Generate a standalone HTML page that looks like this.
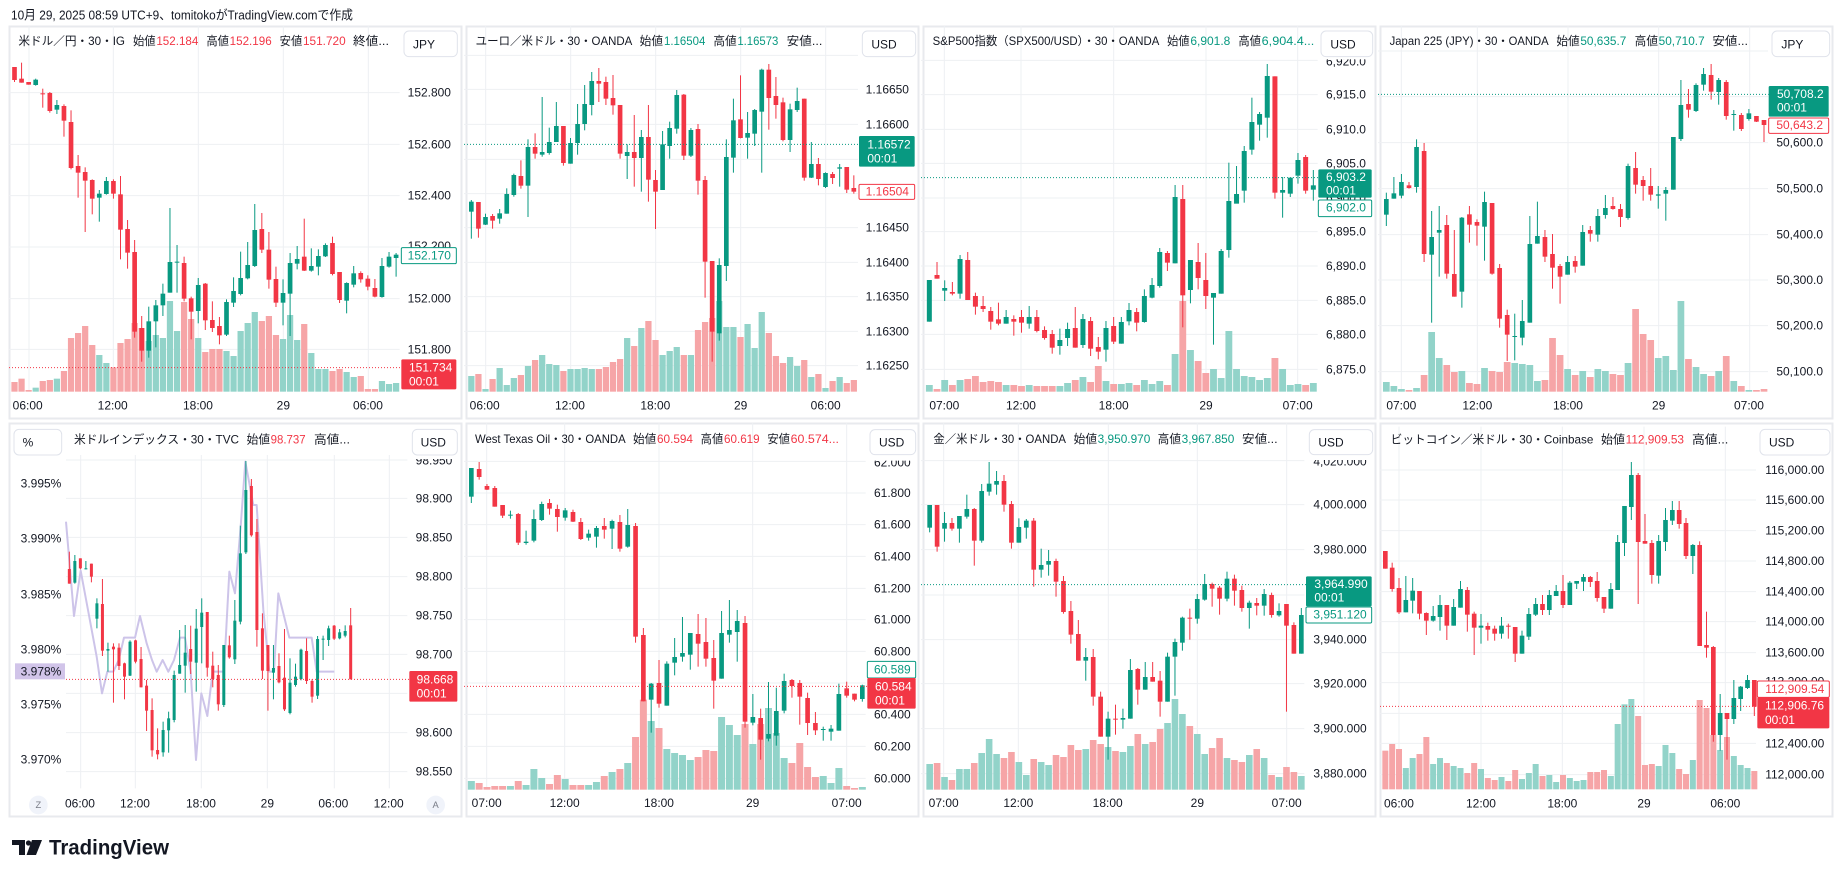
<!DOCTYPE html>
<html><head><meta charset="utf-8">
<style>
html,body{margin:0;padding:0;background:#fff;width:1844px;height:878px;overflow:hidden}
svg{display:block}
text{font-family:"Liberation Sans","Noto Sans CJK JP",sans-serif;fill:#131722}
.ax{font-size:36px;text-anchor:end;dominant-baseline:central}
.tl{font-size:36px;text-anchor:middle;dominant-baseline:central}
.lb{font-size:36px;dominant-baseline:central}
.ti{font-size:35px;dominant-baseline:central}
.w{fill:#fff}
.g{fill:#089981}
.r{fill:#f23645}
.grid{stroke:#eef0f3;stroke-width:3;fill:none}
.box{fill:#fff;stroke:#e0e3eb;stroke-width:3}
.frame{fill:#fff;stroke:#e8eaee;stroke-width:2}
</style></head><body>
<svg width="1844" height="878" viewBox="0 0 1844 878" xmlns="http://www.w3.org/2000/svg">
<rect width="1844" height="878" fill="#fff"/>
<text x="11" y="15" style="font-size:13px;dominant-baseline:central" textLength="342" lengthAdjust="spacingAndGlyphs">10月 29, 2025 08:59 UTC+9、tomitokoがTradingView.comで作成</text>

<rect class="frame" x="9.5" y="26.5" width="452" height="392"/>
<rect class="frame" x="466.5" y="26.5" width="452" height="392"/>
<rect class="frame" x="923.5" y="26.5" width="452" height="392"/>
<rect class="frame" x="1380.5" y="26.5" width="452" height="392"/>
<rect class="frame" x="9.5" y="423.5" width="452" height="393"/>
<rect class="frame" x="466.5" y="423.5" width="452" height="393"/>
<rect class="frame" x="923.5" y="423.5" width="452" height="393"/>
<rect class="frame" x="1380.5" y="423.5" width="452" height="393"/>

<!-- P1 USDJPY -->
<g transform="translate(9,26) scale(0.333333)">
<path class="grid" d="M0 200H1172M0 355H1172M0 509H1172M0 663H1172M0 818H1172M0 970H1172M60 0V1097M313 0V1097M568 0V1097M823 0V1097M1078 0V1097"/>
<g id="p1"></g>
<path d="M0 1025H1177" stroke="#f23645" stroke-width="3" stroke-dasharray="3 6"/>
<text class="ax" x="1326" y="200">152.800</text>
<text class="ax" x="1326" y="355">152.600</text>
<text class="ax" x="1326" y="509">152.400</text>
<text class="ax" x="1326" y="660">152.200</text>
<text class="ax" x="1326" y="818">152.000</text>
<text class="ax" x="1326" y="970">151.800</text>
<rect x="1177" y="665" width="165" height="48" rx="4" fill="#fff" stroke="#089981" stroke-width="3"/>
<text class="ax g" x="1326" y="689">152.170</text>
<rect x="1177" y="1000" width="165" height="90" rx="4" fill="#f23645"/>
<text class="lb w" x="1200" y="1025">151.734</text>
<text class="lb w" x="1200" y="1067">00:01</text>
<rect class="box" x="1185" y="15" width="160" height="77" rx="15"/>
<text class="lb" x="1212" y="55">JPY</text>
<text class="tl" x="56" y="1138">06:00</text>
<text class="tl" x="311" y="1138">12:00</text>
<text class="tl" x="567" y="1138">18:00</text>
<text class="tl" x="823" y="1138">29</text>
<text class="tl" x="1077" y="1138">06:00</text>
<text class="ti" x="28" y="47" textLength="320" lengthAdjust="spacingAndGlyphs">米ドル／円・30・IG</text>
<text class="ti" x="372" y="47" textLength="68" lengthAdjust="spacingAndGlyphs">始値</text>
<text class="ti r" x="442" y="47" textLength="126" lengthAdjust="spacingAndGlyphs">152.184</text>
<text class="ti" x="592" y="47" textLength="68" lengthAdjust="spacingAndGlyphs">高値</text>
<text class="ti r" x="662" y="47" textLength="126" lengthAdjust="spacingAndGlyphs">152.196</text>
<text class="ti" x="812" y="47" textLength="68" lengthAdjust="spacingAndGlyphs">安値</text>
<text class="ti r" x="882" y="47" textLength="128" lengthAdjust="spacingAndGlyphs">151.720</text>
<text class="ti" x="1032" y="47" textLength="108" lengthAdjust="spacingAndGlyphs">終値...</text>
</g>

<!-- P2 EURUSD -->
<g transform="translate(464,26) scale(0.333333)">
<path class="grid" d="M0 88H1182M0 190H1182M0 295H1182M0 400H1182M0 503H1182M0 605H1182M0 709H1182M0 812H1182M0 916H1182M0 1019H1182M65 0V1097M320 0V1097M575 0V1097M830 0V1097M1085 0V1097"/>
<g id="p2"></g>
<path d="M0 355H1185" stroke="#089981" stroke-width="3" stroke-dasharray="3 6"/>
<text class="ax" x="1335" y="190">1.16650</text>
<text class="ax" x="1335" y="295">1.16600</text>
<text class="ax" x="1335" y="400">1.16550</text>
<text class="ax" x="1335" y="503">1.16500</text>
<text class="ax" x="1335" y="605">1.16450</text>
<text class="ax" x="1335" y="709">1.16400</text>
<text class="ax" x="1335" y="812">1.16350</text>
<text class="ax" x="1335" y="916">1.16300</text>
<text class="ax" x="1335" y="1019">1.16250</text>
<rect x="1185" y="330" width="167" height="92" rx="4" fill="#089981"/>
<text class="lb w" x="1210" y="355">1.16572</text>
<text class="lb w" x="1210" y="397">00:01</text>
<rect x="1185" y="475" width="167" height="45" rx="4" fill="#fff" stroke="#f23645" stroke-width="3"/>
<text class="ax r" x="1335" y="497">1.16504</text>
<rect class="box" x="1195" y="15" width="160" height="77" rx="15"/>
<text class="lb" x="1222" y="55">USD</text>
<text class="tl" x="62" y="1138">06:00</text>
<text class="tl" x="318" y="1138">12:00</text>
<text class="tl" x="574" y="1138">18:00</text>
<text class="tl" x="830" y="1138">29</text>
<text class="tl" x="1085" y="1138">06:00</text>
<text class="ti" x="35" y="47" textLength="470" lengthAdjust="spacingAndGlyphs">ユーロ／米ドル・30・OANDA</text>
<text class="ti" x="527" y="47" textLength="70" lengthAdjust="spacingAndGlyphs">始値</text>
<text class="ti g" x="600" y="47" textLength="124" lengthAdjust="spacingAndGlyphs">1.16504</text>
<text class="ti" x="748" y="47" textLength="70" lengthAdjust="spacingAndGlyphs">高値</text>
<text class="ti g" x="820" y="47" textLength="123" lengthAdjust="spacingAndGlyphs">1.16573</text>
<text class="ti" x="968" y="47" textLength="107" lengthAdjust="spacingAndGlyphs">安値...</text>
</g>

<!-- P3 SPX -->
<g transform="translate(921,26) scale(0.333333)">
<path class="grid" d="M0 103H1190M0 206H1190M0 310H1190M0 412H1190M0 516H1190M0 617H1190M0 720H1190M0 823H1190M0 925H1190M0 1030H1190M70 0V1097M300 0V1097M578 0V1097M855 0V1097M1130 0V1097"/>
<g id="p3"></g>
<path d="M0 455H1192" stroke="#089981" stroke-width="3" stroke-dasharray="3 6"/>
<text class="ax" x="1335" y="106">6,920.0</text>
<rect x="1192" y="80" width="165" height="20" fill="#fff"/>
<text class="ax" x="1335" y="206">6,915.0</text>
<text class="ax" x="1335" y="310">6,910.0</text>
<text class="ax" x="1335" y="412">6,905.0</text>
<text class="ax" x="1335" y="516">6,900.0</text>
<text class="ax" x="1335" y="617">6,895.0</text>
<text class="ax" x="1335" y="720">6,890.0</text>
<text class="ax" x="1335" y="823">6,885.0</text>
<text class="ax" x="1335" y="925">6,880.0</text>
<text class="ax" x="1335" y="1030">6,875.0</text>
<rect x="1192" y="430" width="160" height="85" rx="4" fill="#089981"/>
<text class="lb w" x="1215" y="453">6,903.2</text>
<text class="lb w" x="1215" y="493">00:01</text>
<rect x="1192" y="522" width="160" height="50" rx="4" fill="#fff" stroke="#089981" stroke-width="3"/>
<text class="ax g" x="1335" y="545">6,902.0</text>
<rect class="box" x="1200" y="15" width="155" height="77" rx="15"/>
<text class="lb" x="1228" y="55">USD</text>
<text class="tl" x="70" y="1138">07:00</text>
<text class="tl" x="300" y="1138">12:00</text>
<text class="tl" x="578" y="1138">18:00</text>
<text class="tl" x="855" y="1138">29</text>
<text class="tl" x="1130" y="1138">07:00</text>
<text class="ti" x="35" y="47" textLength="680" lengthAdjust="spacingAndGlyphs">S&amp;P500指数（SPX500/USD）・30・OANDA</text>
<text class="ti" x="738" y="47" textLength="68" lengthAdjust="spacingAndGlyphs">始値</text>
<text class="ti g" x="808" y="47" textLength="120" lengthAdjust="spacingAndGlyphs">6,901.8</text>
<text class="ti" x="952" y="47" textLength="68" lengthAdjust="spacingAndGlyphs">高値</text>
<text class="ti g" x="1022" y="47" textLength="158" lengthAdjust="spacingAndGlyphs">6,904.4...</text>
</g>

<!-- P4 N225 -->
<g transform="translate(1378,26) scale(0.333333)">
<path class="grid" d="M0 75H1170M0 212H1170M0 350H1170M0 488H1170M0 626H1170M0 762H1170M0 899H1170M0 1037H1170M70 0V1097M298 0V1097M570 0V1097M842 0V1097M1115 0V1097"/>
<g id="p4"></g>
<path d="M0 205H1172" stroke="#089981" stroke-width="3" stroke-dasharray="3 6"/>
<text class="ax" x="1335" y="212">50,700.0</text>
<text class="ax" x="1335" y="350">50,600.0</text>
<text class="ax" x="1335" y="488">50,500.0</text>
<text class="ax" x="1335" y="626">50,400.0</text>
<text class="ax" x="1335" y="762">50,300.0</text>
<text class="ax" x="1335" y="899">50,200.0</text>
<text class="ax" x="1335" y="1037">50,100.0</text>
<rect x="1172" y="180" width="180" height="92" rx="4" fill="#089981"/>
<text class="lb w" x="1197" y="204">50,708.2</text>
<text class="lb w" x="1197" y="244">00:01</text>
<rect x="1172" y="276" width="180" height="46" rx="4" fill="#fff" stroke="#f23645" stroke-width="3"/>
<text class="ax r" x="1335" y="297">50,643.2</text>
<rect class="box" x="1182" y="15" width="173" height="77" rx="15"/>
<text class="lb" x="1210" y="55">JPY</text>
<text class="tl" x="70" y="1138">07:00</text>
<text class="tl" x="298" y="1138">12:00</text>
<text class="tl" x="570" y="1138">18:00</text>
<text class="tl" x="842" y="1138">29</text>
<text class="tl" x="1113" y="1138">07:00</text>
<text class="ti" x="35" y="47" textLength="477" lengthAdjust="spacingAndGlyphs">Japan 225 (JPY)・30・OANDA</text>
<text class="ti" x="535" y="47" textLength="70" lengthAdjust="spacingAndGlyphs">始値</text>
<text class="ti g" x="607" y="47" textLength="138" lengthAdjust="spacingAndGlyphs">50,635.7</text>
<text class="ti" x="770" y="47" textLength="70" lengthAdjust="spacingAndGlyphs">高値</text>
<text class="ti g" x="842" y="47" textLength="138" lengthAdjust="spacingAndGlyphs">50,710.7</text>
<text class="ti" x="1003" y="47" textLength="107" lengthAdjust="spacingAndGlyphs">安値...</text>
</g>

<!-- P5 DXY -->
<g transform="translate(0,380) scale(0.333333)">
<path class="grid" d="M198 240H1222M198 355H1222M198 472H1222M198 590H1222M198 707H1222M198 823H1222M198 940H1222M198 1058H1222M198 1175H1222M242 225V1225M406 225V1225M604 225V1225M802 225V1225M1003 225V1225M1168 225V1225"/>
<polyline fill="none" stroke="#cdc4e9" stroke-width="6" stroke-linejoin="round" points="198,425 222,708 242,572 264,690 290,830 306,940 322,875 340,875 356,840 372,773 405,773 420,708 440,790 456,840 470,875 488,840 505,875 522,840 540,773 555,773 572,875 588,1140 604,940 622,1008 638,875 656,875 672,875 688,575 705,640 722,440 736,245 760,375 770,375 790,690 808,875 822,875 835,640 852,708 868,773 935,773 950,875 1003,875"/>
<g id="p5"></g>
<path d="M198 898H1228" stroke="#f23645" stroke-width="3" stroke-dasharray="3 6"/>
<text class="ax" x="1357" y="242">98.950</text>
<rect x="1228" y="215" width="150" height="22" fill="#fff"/>
<text class="ax" x="1357" y="355">98.900</text>
<text class="ax" x="1357" y="472">98.850</text>
<text class="ax" x="1357" y="590">98.800</text>
<text class="ax" x="1357" y="707">98.750</text>
<text class="ax" x="1357" y="823">98.700</text>
<text class="ax" x="1357" y="1058">98.600</text>
<text class="ax" x="1357" y="1175">98.550</text>
<text class="lb" x="62" y="311">3.995%</text>
<text class="lb" x="62" y="476">3.990%</text>
<text class="lb" x="62" y="643">3.985%</text>
<text class="lb" x="62" y="808">3.980%</text>
<text class="lb" x="62" y="973">3.975%</text>
<text class="lb" x="62" y="1138">3.970%</text>
<rect x="45" y="850" width="150" height="48" fill="#d1c4e9"/>
<text class="lb" x="62" y="875">3.978%</text>
<rect x="1228" y="873" width="144" height="92" rx="4" fill="#f23645"/>
<text class="lb w" x="1250" y="898">98.668</text>
<text class="lb w" x="1250" y="940">00:01</text>
<rect class="box" x="42" y="148" width="143" height="77" rx="15"/>
<text class="lb" x="68" y="188">%</text>
<rect class="box" x="1237" y="148" width="135" height="77" rx="15"/>
<text class="lb" x="1262" y="188">USD</text>
<text class="tl" x="240" y="1270">06:00</text>
<text class="tl" x="405" y="1270">12:00</text>
<text class="tl" x="603" y="1270">18:00</text>
<text class="tl" x="802" y="1270">29</text>
<text class="tl" x="1000" y="1270">06:00</text>
<text class="tl" x="1166" y="1270">12:00</text>
<circle cx="115" cy="1275" r="28" fill="#f0f3fa"/>
<text class="tl" x="115" y="1275" style="font-size:28px;fill:#787b86">Z</text>
<circle cx="1307" cy="1275" r="28" fill="#f0f3fa"/>
<text class="tl" x="1307" y="1275" style="font-size:28px;fill:#787b86">A</text>
<text class="ti" x="222" y="180" textLength="495" lengthAdjust="spacingAndGlyphs">米ドルインデックス・30・TVC</text>
<text class="ti" x="740" y="180" textLength="70" lengthAdjust="spacingAndGlyphs">始値</text>
<text class="ti r" x="812" y="180" textLength="105" lengthAdjust="spacingAndGlyphs">98.737</text>
<text class="ti" x="942" y="180" textLength="108" lengthAdjust="spacingAndGlyphs">高値...</text>
</g>

<!-- P6 WTI -->
<g transform="translate(464,423) scale(0.333333)">
<path class="grid" d="M0 115H1205M0 210H1205M0 305H1205M0 400H1205M0 496H1205M0 590H1205M0 685H1205M0 780H1205M0 874H1205M0 970H1205M0 1066H1205M68 0V1100M302 0V1100M585 0V1100M866 0V1100M1148 0V1100"/>
<g id="p6"></g>
<path d="M0 790H1210" stroke="#f23645" stroke-width="3" stroke-dasharray="3 6"/>
<text class="ax" x="1340" y="118">62.000</text>
<rect x="1210" y="90" width="150" height="23" fill="#fff"/>
<text class="ax" x="1340" y="210">61.800</text>
<text class="ax" x="1340" y="305">61.600</text>
<text class="ax" x="1340" y="400">61.400</text>
<text class="ax" x="1340" y="496">61.200</text>
<text class="ax" x="1340" y="590">61.000</text>
<text class="ax" x="1340" y="685">60.800</text>
<text class="ax" x="1340" y="874">60.400</text>
<text class="ax" x="1340" y="970">60.200</text>
<text class="ax" x="1340" y="1066">60.000</text>
<rect x="1210" y="715" width="145" height="50" rx="4" fill="#fff" stroke="#089981" stroke-width="3"/>
<text class="ax g" x="1340" y="740">60.589</text>
<rect x="1210" y="765" width="145" height="92" rx="4" fill="#f23645"/>
<text class="lb w" x="1233" y="790">60.584</text>
<text class="lb w" x="1233" y="832">00:01</text>
<rect class="box" x="1218" y="20" width="137" height="75" rx="15"/>
<text class="lb" x="1245" y="58">USD</text>
<text class="tl" x="68" y="1140">07:00</text>
<text class="tl" x="302" y="1140">12:00</text>
<text class="tl" x="585" y="1140">18:00</text>
<text class="tl" x="866" y="1140">29</text>
<text class="tl" x="1148" y="1140">07:00</text>
<text class="ti" x="33" y="50" textLength="452" lengthAdjust="spacingAndGlyphs">West Texas Oil・30・OANDA</text>
<text class="ti" x="507" y="50" textLength="70" lengthAdjust="spacingAndGlyphs">始値</text>
<text class="ti r" x="579" y="50" textLength="108" lengthAdjust="spacingAndGlyphs">60.594</text>
<text class="ti" x="710" y="50" textLength="68" lengthAdjust="spacingAndGlyphs">高値</text>
<text class="ti r" x="780" y="50" textLength="107" lengthAdjust="spacingAndGlyphs">60.619</text>
<text class="ti" x="910" y="50" textLength="68" lengthAdjust="spacingAndGlyphs">安値</text>
<text class="ti r" x="980" y="50" textLength="145" lengthAdjust="spacingAndGlyphs">60.574...</text>
</g>

<!-- P7 Gold -->
<g transform="translate(921,423) scale(0.333333)">
<path class="grid" d="M0 113H1150M0 245H1150M0 380H1150M0 516H1150M0 650H1150M0 782H1150M0 917H1150M0 1052H1150M68 0V1100M292 0V1100M562 0V1100M829 0V1100M1097 0V1100"/>
<g id="p7"></g>
<path d="M0 485H1155" stroke="#089981" stroke-width="3" stroke-dasharray="3 6"/>
<text class="ax" x="1337" y="115">4,020.000</text>
<rect x="1155" y="90" width="205" height="21" fill="#fff"/>
<text class="ax" x="1337" y="245">4,000.000</text>
<text class="ax" x="1337" y="380">3,980.000</text>
<text class="ax" x="1337" y="516">3,960.000</text>
<text class="ax" x="1337" y="650">3,940.000</text>
<text class="ax" x="1337" y="782">3,920.000</text>
<text class="ax" x="1337" y="917">3,900.000</text>
<text class="ax" x="1337" y="1052">3,880.000</text>
<rect x="1155" y="460" width="197" height="90" rx="4" fill="#089981"/>
<text class="lb w" x="1180" y="483">3,964.990</text>
<text class="lb w" x="1180" y="523">00:01</text>
<rect x="1155" y="552" width="197" height="48" rx="4" fill="#fff" stroke="#089981" stroke-width="3"/>
<text class="ax g" x="1337" y="575">3,951.120</text>
<rect class="box" x="1165" y="20" width="190" height="75" rx="15"/>
<text class="lb" x="1192" y="58">USD</text>
<text class="tl" x="68" y="1140">07:00</text>
<text class="tl" x="292" y="1140">12:00</text>
<text class="tl" x="560" y="1140">18:00</text>
<text class="tl" x="829" y="1140">29</text>
<text class="tl" x="1097" y="1140">07:00</text>
<text class="ti" x="37" y="50" textLength="398" lengthAdjust="spacingAndGlyphs">金／米ドル・30・OANDA</text>
<text class="ti" x="458" y="50" textLength="70" lengthAdjust="spacingAndGlyphs">始値</text>
<text class="ti g" x="530" y="50" textLength="158" lengthAdjust="spacingAndGlyphs">3,950.970</text>
<text class="ti" x="710" y="50" textLength="70" lengthAdjust="spacingAndGlyphs">高値</text>
<text class="ti g" x="782" y="50" textLength="158" lengthAdjust="spacingAndGlyphs">3,967.850</text>
<text class="ti" x="963" y="50" textLength="107" lengthAdjust="spacingAndGlyphs">安値...</text>
</g>

<!-- P8 BTC -->
<g transform="translate(1380,380) scale(0.333333)">
<path class="grid" d="M0 270H1128M0 360H1128M0 452H1128M0 543H1128M0 635H1128M0 725H1128M0 818H1128M0 908H1128M0 1000H1128M0 1090H1128M0 1184H1128M57 140V1228M303 140V1228M547 140V1228M792 140V1228M1036 140V1228"/>
<g id="p8"></g>
<path d="M0 979H1132" stroke="#f23645" stroke-width="3" stroke-dasharray="3 6"/>
<text class="ax" x="1333" y="270">116,000.00</text>
<text class="ax" x="1333" y="360">115,600.00</text>
<text class="ax" x="1333" y="452">115,200.00</text>
<text class="ax" x="1333" y="543">114,800.00</text>
<text class="ax" x="1333" y="635">114,400.00</text>
<text class="ax" x="1333" y="725">114,000.00</text>
<text class="ax" x="1333" y="818">113,600.00</text>
<text class="ax" x="1333" y="905">113,200.00</text>
<text class="ax" x="1333" y="1090">112,400.00</text>
<text class="ax" x="1333" y="1184">112,000.00</text>
<rect x="1132" y="903" width="216" height="49" rx="4" fill="#fff" stroke="#f23645" stroke-width="3"/>
<text class="ax r" x="1333" y="927">112,909.54</text>
<rect x="1132" y="952" width="216" height="93" rx="4" fill="#f23645"/>
<text class="lb w" x="1155" y="977">112,906.76</text>
<text class="lb w" x="1155" y="1020">00:01</text>
<rect class="box" x="1140" y="148" width="210" height="77" rx="15"/>
<text class="lb" x="1167" y="188">USD</text>
<text class="tl" x="57" y="1271">06:00</text>
<text class="tl" x="303" y="1271">12:00</text>
<text class="tl" x="547" y="1271">18:00</text>
<text class="tl" x="792" y="1271">29</text>
<text class="tl" x="1036" y="1271">06:00</text>
<text class="ti" x="32" y="180" textLength="608" lengthAdjust="spacingAndGlyphs">ビットコイン／米ドル・30・Coinbase</text>
<text class="ti" x="663" y="180" textLength="72" lengthAdjust="spacingAndGlyphs">始値</text>
<text class="ti r" x="737" y="180" textLength="175" lengthAdjust="spacingAndGlyphs">112,909.53</text>
<text class="ti" x="936" y="180" textLength="109" lengthAdjust="spacingAndGlyphs">高値...</text>
</g>

<!-- TradingView logo -->
<g fill="#131722">
<rect x="12" y="840" width="13" height="5"/>
<rect x="19" y="840" width="6" height="15"/>
<circle cx="28.5" cy="843" r="2.6"/>
<polygon points="32,840 42,840 36,855 26.5,855"/>
</g>
<text x="49" y="848" style="font-size:21px;font-weight:bold;dominant-baseline:central" textLength="120" lengthAdjust="spacingAndGlyphs">TradingView</text>
</svg>

<script>
function P(id,c0,st,bw,vb,C,V){
 var g=document.getElementById(id),s='',vw=st-2.5;
 if(V){V.forEach(function(v,i){var x=c0+st*i;s+='<rect x="'+(x-vw/2)+'" y="'+v+'" width="'+vw+'" height="'+(vb-v)+'" fill="'+(C[i]&&C[i][4]?'#92d3c9':'#f6a5a7')+'"/>';});}
 C.forEach(function(c,i){var x=c0+st*i,f=c[4]?'#089981':'#f23645';
  s+='<rect x="'+(x-1.5)+'" y="'+c[2]+'" width="3" height="'+(c[3]-c[2])+'" fill="'+f+'"/>';
  s+='<rect x="'+(x-bw/2)+'" y="'+c[0]+'" width="'+bw+'" height="'+Math.max(3,c[1]-c[0])+'" fill="'+f+'"/>';});
 g.innerHTML=s;
}
P('p1',16.5,21.2,14,1097,[
[123,162,123,168,0],[158,170,110,170,0],[168,176,168,176,0],[161,177,158,179,1],[202,204,188,245,0],[201,255,198,260,0],[237,251,222,264,1],[240,284,235,332,0],[288,426,253,430,0],[420,440,387,515,0],
[438,464,424,618,0],[462,518,460,565,0],[503,515,492,587,1],[465,504,453,506,1],[465,503,460,518,0],[505,611,450,700,0],[609,680,582,728,0],[678,917,642,935,0],[906,974,870,1007,0],[886,974,842,995,1],
[838,886,822,964,1],[803,838,773,870,1],[708,800,546,800,1],[707,710,657,800,1],[711,818,692,826,0],[817,857,812,940,0],[777,855,756,892,1],[773,883,771,912,0],[882,906,826,918,0],[900,928,873,955,0],
[828,926,820,930,1],[795,830,754,843,1],[756,804,677,808,1],[717,757,648,760,1],[612,720,534,723,1],[609,671,561,681,0],[671,761,618,788,0],[759,830,722,843,0],[801,830,760,898,1],[711,803,681,930,1],
[699,713,660,730,1],[692,734,578,735,0],[720,734,667,737,1],[690,722,670,748,1],[657,691,652,693,1],[651,744,632,748,0],[738,822,738,831,0],[771,824,769,862,1],[742,776,720,784,1],[741,760,736,770,0],
[758,782,748,793,0],[786,812,759,814,0],[720,813,696,815,1],[692,722,678,725,1],[686,696,681,752,1]],
[1068,1058,1092,1085,1065,1062,1058,1035,936,921,900,957,987,1011,1024,951,939,891,906,945,927,936,825,915,828,879,936,978,969,969,975,990,915,891,858,885,870,927,939,867,942,894,981,1029,1029,1035,1029,1038,1053,1050,1089,1089,1065,1074,1071]);

P('p2',22,21.25,14,1097,[
[527,557,522,638,1],[528,608,528,635,0],[573,596,563,597,1],[570,584,564,608,0],[562,578,549,593,1],[504,563,487,563,1],[447,507,443,512,1],[450,479,403,488,0],[363,479,340,573,1],[363,383,322,398,0],
[378,386,213,392,1],[348,381,305,386,1],[300,348,228,348,1],[300,411,300,419,0],[351,413,336,413,1],[294,351,234,386,1],[234,294,177,313,1],[165,237,138,268,1],[165,173,126,228,0],[168,218,152,237,0],
[216,238,147,266,0],[237,383,237,398,0],[378,390,355,459,1],[378,396,267,482,0],[333,396,312,497,1],[333,461,237,527,0],[462,497,432,609,0],[355,492,315,492,1],[306,360,287,398,1],[207,308,192,323,1],
[206,389,204,402,0],[312,389,306,393,1],[309,464,294,506,0],[462,707,450,815,0],[705,917,705,1007,0],[717,922,697,944,1],[393,720,340,765,1],[283,395,218,440,1],[280,336,148,337,0],[321,335,258,398,1],
[252,323,249,360,1],[131,257,128,440,1],[131,216,114,311,0],[210,237,153,278,0],[229,342,215,346,0],[250,342,233,378,1],[225,252,185,258,1],[218,455,218,464,0],[414,455,348,456,1],[414,459,396,478,0],
[441,483,439,486,1],[444,456,438,474,0],[424,428,414,482,1],[423,491,423,501,0],[486,497,448,503,0]],
[1050,1044,1089,1059,1026,1077,1056,1047,1020,1002,987,1014,1017,1035,1029,1029,1026,1029,1029,1023,1008,999,936,960,906,885,942,987,975,963,987,987,912,888,876,825,903,903,933,894,966,858,921,990,1011,993,1020,1002,1053,1044,1086,1065,1053,1071,1062]);

P('p3',25,23.04,15,1097,[
[762,887,762,887,1],[747,758,708,758,0],[786,794,763,825,1],[798,803,768,808,0],[699,803,687,818,1],[702,822,678,822,0],[810,842,800,866,0],[840,849,810,858,0],[855,887,843,911,0],[880,893,830,898,0],
[873,893,852,893,1],[879,887,868,929,0],[873,890,852,920,0],[873,893,840,908,1],[873,915,852,919,0],[912,936,901,941,0],[924,965,912,983,0],[942,960,908,986,1],[909,936,890,960,1],[906,965,843,965,0],
[879,957,864,966,1],[885,968,873,990,0],[963,977,933,1000,0],[906,971,885,1007,1],[900,947,873,954,0],[888,953,873,953,1],[852,886,831,898,1],[858,890,846,916,0],[810,888,790,890,1],[777,815,756,817,1],
[678,780,666,785,1],[681,710,675,735,0],[513,712,477,712,1],[519,808,477,904,0],[702,792,702,832,1],[708,756,651,790,0],[762,810,681,849,0],[801,815,801,956,1],[675,803,669,803,1],[525,672,410,695,1],
[504,533,420,530,1],[375,494,360,530,1],[288,371,215,386,1],[264,296,258,344,1],[150,275,114,335,1],[151,500,151,518,0],[492,500,453,575,1],[455,503,455,513,1],[402,449,381,473,1],[393,494,387,503,0],
[478,491,432,524,1]],
[1077,1089,1062,1077,1062,1059,1050,1068,1065,1068,1077,1077,1080,1077,1080,1080,1080,1080,1071,1062,1053,1068,1020,1065,1074,1074,1071,1077,1062,1074,1065,1077,984,825,972,1005,1041,1029,1056,915,1029,1050,1053,1062,1056,996,1029,1077,1074,1077,1071]);

P('p4',25,22.66,14,1097,[
[519,566,500,600,1],[502,518,453,518,1],[468,509,444,517,1],[478,486,468,488,0],[363,483,340,500,1],[375,684,351,708,0],[633,686,555,890,1],[612,620,540,752,1],[597,743,567,758,0],[744,812,612,812,0],
[575,797,573,845,1],[565,596,540,650,0],[588,599,580,659,0],[528,602,497,704,1],[531,743,531,746,0],[726,878,714,905,0],[867,926,851,1005,0],[930,933,863,1003,1],[885,935,822,958,1],[654,890,570,890,1],
[630,653,527,653,1],[633,692,612,708,0],[684,725,624,788,0],[720,752,714,833,0],[708,746,690,746,1],[705,722,690,740,0],[618,719,597,719,1],[612,623,600,647,0],[570,626,549,647,1],[546,567,507,578,1],
[540,549,513,551,0],[549,573,534,603,0],[420,576,413,581,1],[426,476,378,503,0],[462,480,450,524,0],[480,506,426,524,0],[505,509,480,548,1],[492,503,483,584,1],[333,491,333,491,1],[237,339,162,345,1],
[234,251,189,275,0],[177,255,172,258,1],[144,176,126,194,1],[147,197,114,221,0],[162,198,156,236,1],[168,270,162,281,0],[264,267,252,314,1],[267,309,261,315,0],[262,279,249,284,1],[270,287,270,288,0],
[282,297,282,348,0]],
[1068,1080,1089,1092,1086,1047,918,996,1017,1038,1035,1071,1074,1026,1035,1038,1008,1011,1014,1017,1065,1062,936,987,1029,1047,1035,1053,1029,1035,1044,1047,1011,849,924,942,996,990,1032,825,999,1023,1044,1050,1035,990,1065,1080,1092,1092,1089]);

P('p5',208,16.55,9,0,[
[567,611,515,611,0],[543,608,525,611,1],[535,565,535,568,0],[565,568,543,568,1],[551,590,551,607,0],[670,716,655,745,1],[672,812,597,828,0],[807,812,788,875,1],[800,808,790,968,0],[803,858,790,870,0],
[850,890,848,958,0],[785,887,781,888,1],[781,845,779,850,0],[837,922,801,922,0],[917,992,900,1053,0],[990,1111,955,1130,0],[1110,1123,1045,1138,0],[1050,1117,1025,1130,1],[1015,1051,995,1118,1],[885,1020,872,1027,1],
[855,881,750,881,1],[818,857,735,938,1],[807,845,737,882,0],[746,848,687,935,1],[698,741,655,850,1],[696,863,696,890,0],[857,897,815,922,0],[885,973,855,992,0],[795,975,795,981,1],[796,832,767,836,0],
[722,838,660,852,1],[520,725,437,733,1],[330,517,243,522,1],[318,466,297,470,0],[456,750,417,800,0],[745,872,700,897,0],[795,873,795,992,0],[864,878,795,958,1],[858,907,820,910,0],[893,988,747,993,0],
[908,999,835,1003,1],[890,915,851,920,1],[809,897,806,901,1],[813,903,775,912,0],[903,950,898,968,0],[777,947,768,957,1],[776,779,767,840,1],[745,780,737,798,1],[737,776,735,780,0],[757,775,747,778,1],
[753,767,736,772,1],[736,898,684,898,0]],null);

P('p6',22,23.46,14,1100,[
[135,221,135,240,1],[138,162,117,170,0],[189,200,183,201,0],[195,251,189,251,0],[246,278,246,285,0],[275,278,263,287,1],[273,359,270,366,0],[356,360,323,365,1],[288,353,260,358,1],[243,291,236,294,1],
[240,257,228,275,0],[258,282,245,326,0],[262,284,255,293,1],[267,296,260,297,0],[297,348,285,351,0],[332,344,320,353,1],[315,341,309,374,1],[309,320,285,347,0],[294,317,290,378,1],[297,377,276,386,0],
[306,371,258,374,1],[309,641,300,659,0],[636,835,615,835,0],[782,830,780,929,1],[780,842,711,854,0],[722,848,715,848,1],[702,719,645,757,1],[690,701,582,716,1],[630,695,630,740,1],[633,662,573,731,0],
[657,707,585,731,0],[705,773,651,857,0],[630,767,564,767,1],[621,635,531,659,1],[594,627,561,716,1],[600,896,579,914,0],[882,899,813,907,1],[885,950,857,1010,0],[933,947,777,955,1],[864,938,794,968,1],
[774,863,752,871,1],[771,789,768,824,0],[780,821,771,905,0],[825,900,809,936,0],[900,922,867,936,0],[918,921,911,953,1],[917,926,906,953,1],[813,923,782,923,1],[796,818,776,824,0],[812,830,812,835,0],
[787,828,785,836,1]],
[1074,1080,1092,1089,1089,1089,1074,1086,1038,1065,1083,1056,1068,1086,1086,1086,1077,1059,1047,1038,1020,942,830,894,915,978,990,996,1011,1002,981,984,882,906,936,903,963,903,855,930,1005,1020,960,1032,1062,1059,1080,1035,1089,1095,1092]);

P('p7',26,22.3,14,1100,[
[246,314,246,328,1],[246,371,246,386,0],[300,317,267,356,1],[300,317,285,323,0],[279,317,279,359,1],[258,281,215,287,1],[258,353,255,428,0],[204,353,183,359,1],[182,206,117,218,1],[174,185,144,215,1],
[174,245,156,266,0],[243,359,234,377,0],[312,359,286,359,1],[293,314,288,347,1],[293,440,285,491,0],[426,440,377,464,1],[414,425,381,458,1],[414,476,407,521,0],[474,567,459,572,0],[564,635,534,662,0],
[633,713,591,713,0],[702,713,675,773,1],[702,821,678,848,0],[821,941,806,941,0],[887,941,866,1010,1],[887,890,845,935,0],[885,890,857,917,1],[741,887,708,887,1],[738,800,735,845,0],[762,800,717,800,1],
[762,776,717,776,0],[773,836,744,881,0],[701,836,689,836,1],[657,701,647,818,1],[584,659,581,683,1],[584,587,557,650,0],[528,587,513,602,1],[483,530,453,533,1],[483,497,479,551,0],[494,527,489,575,0],
[467,527,446,535,1],[467,503,455,548,0],[501,555,488,566,0],[539,555,533,617,1],[540,548,525,577,0],[513,548,498,578,1],[516,576,509,584,0],[564,577,541,581,1],[543,608,543,866,0],[606,692,598,692,0],
[576,692,555,692,1]],
[1023,1020,1062,1071,1038,1038,1020,990,948,993,1005,987,1017,1056,1008,1017,1026,996,1002,966,981,978,951,963,972,984,987,969,933,963,957,918,900,828,873,909,933,993,975,945,1005,1011,1017,996,978,1005,1056,1062,1032,1047,1059]);

P('p8',16,20.5,14,1228,[
[513,566,513,566,0],[563,627,548,635,0],[624,697,594,702,0],[660,697,588,697,1],[632,662,594,700,1],[633,701,633,718,0],[699,722,697,765,0],[708,722,678,725,1],[675,711,645,752,1],[675,737,675,780,0],
[681,737,657,737,1],[627,683,603,683,1],[630,704,621,755,0],[701,743,695,825,0],[737,743,702,791,1],[738,749,728,782,0],[746,761,737,782,0],[737,761,711,776,1],[737,740,731,776,0],[741,821,741,846,0],
[767,821,752,821,1],[702,770,684,780,1],[672,704,654,708,1],[672,690,645,705,0],[645,690,630,705,1],[633,648,615,648,1],[633,675,585,684,0],[608,675,603,675,1],[603,611,603,627,1],[591,605,582,633,1],
[591,606,588,621,0],[603,654,576,665,0],[651,686,651,699,0],[627,686,609,686,1],[486,630,465,630,1],[378,489,378,528,1],[285,381,246,420,1],[285,486,279,672,0],[483,491,402,491,0],[489,585,480,611,0],
[483,587,465,611,1],[420,486,384,513,1],[390,422,363,435,1],[390,432,363,446,0],[429,528,414,537,0],[495,528,492,582,1],[495,798,484,798,0],[795,803,695,833,0],[801,1065,798,1085,0],[999,1065,942,1112,1],
[999,1017,999,1139,0],[954,1017,900,1032,1],[920,957,918,993,1],[900,924,885,927,1],[900,980,900,1008,0]],
[1112,1092,1107,1164,1134,1122,1071,1152,1134,1149,1158,1164,1179,1149,1167,1194,1200,1191,1203,1170,1197,1179,1152,1188,1185,1206,1185,1194,1203,1200,1176,1176,1170,1188,1032,973,957,1008,1155,1152,1158,1095,1119,1167,1182,1140,960,984,1065,1110,1071,1128,1155,1164,1173]);
</script>
</body></html>
